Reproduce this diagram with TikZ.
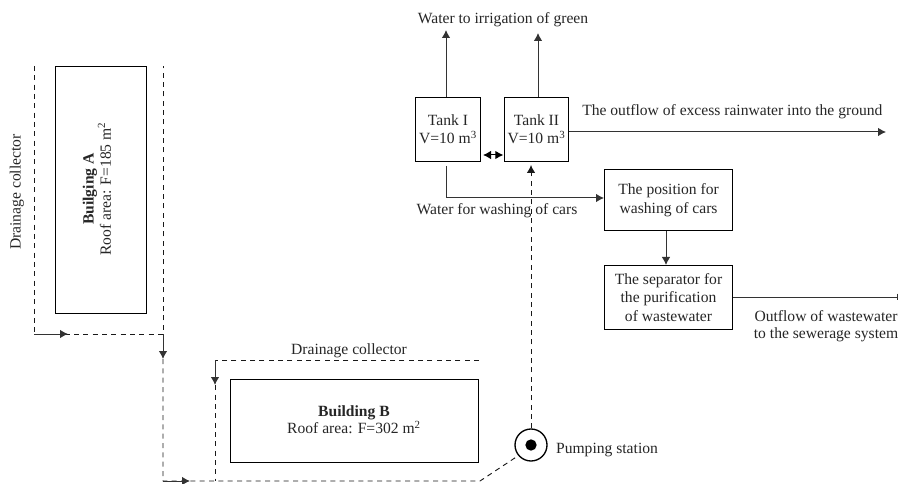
\documentclass[tikz,border=0pt]{standalone}
\usepackage{fontspec}
\setmainfont{Liberation Serif}
\usetikzlibrary{arrows.meta}
\tikzset{
  x=0.75pt,y=-0.75pt,
  boxnode/.style={draw=black,line width=0.75pt,inner sep=0pt,rectangle,align=center,font=\fontsize{11.7}{13.8}\selectfont,text=black!85},
  label/.style={inner sep=0pt,align=center,font=\fontsize{11.7}{13}\selectfont,text=black!85},
  solidline/.style={draw=black!80,line width=0.75pt},
  dashline/.style={draw=black!90,line width=0.7pt,dash pattern=on 3.8pt off 3.2pt},
  arrowed/.style={-{Latex[length=6pt,width=6.4pt]}},
  bothway/.style={{Latex[length=6pt,width=6.4pt]}-{Latex[length=6pt,width=6.4pt]}},
}
\begin{document}
\begin{tikzpicture}
\useasboundingbox (0,0) rectangle (898,484);
% buildings
\node[boxnode,anchor=north west,minimum width=68.25pt,minimum height=185.25pt] (bldA) at (55,66) {};
\node[boxnode,anchor=north west,minimum width=186pt,minimum height=62.25pt] (bldB) at (230,379) {};
\node[label,rotate=90] (bldAt) at (97,189) {\textbf{Builging A}\\Roof area: F=185 m\textsuperscript{2}};
\node[label] (bldBt) at (354,420) {\textbf{Building B}\\Roof area: F=302 m\textsuperscript{2}};
% process boxes
\node[boxnode,anchor=north west,minimum width=48.75pt,minimum height=48pt] (tankI) at (415,97) {Tank I\\V=10 m\textsuperscript{3}};
\node[boxnode,anchor=north west,minimum width=48pt,minimum height=48pt] (tankII) at (504,97) {Tank II\\V=10 m\textsuperscript{3}};
\node[boxnode,anchor=north west,minimum width=96pt,minimum height=45.75pt,line width=0.9pt] (wash) at (604,169) {The position for\\washing of cars};
\node[boxnode,anchor=north west,minimum width=96pt,minimum height=48pt] (sep) at (604,265) {The separator for\\the purification\\of wastewater};
% pump
\node[circle,draw=black,line width=1pt,minimum size=24pt,inner sep=0pt] (pump) at (531,445) {};
\node[circle,fill=black,minimum size=8.5pt,inner sep=0pt] (pumpdot) at (pump.center) {};
% labels
\node[label] (lgreen) at (503,20) {Water to irrigation of green};
\node[label,anchor=west] (lout) at (582,112) {The outflow of excess rainwater into the ground};
\node[label] (lwash) at (497,211) {Water for washing of cars};
\node[label] (lsew) at (826,326) {Outflow of wastewater\\to the sewerage system};
\node[label] (lpump) at (607,450) {Pumping station};
\node[label,rotate=90] (ldrA) at (17,192) {Drainage collector};
\node[label] (ldrB) at (349,351) {Drainage collector};
% free ends
\coordinate (aTL) at (34,66);
\coordinate (aBL) at (34,334);
\coordinate (aArrow) at (68,334);
\coordinate (aTR) at (163,66);
\coordinate (aBR) at (163,334);
\coordinate (aDown) at (163,359);
\coordinate (botL) at (163,481);
\coordinate (botArrow) at (190,481);
\coordinate (botR) at (480,481);
\coordinate (bTR) at (479,360);
\coordinate (bTL) at (215,360);
\coordinate (bArrow) at (215,385);
\coordinate (bBot) at (215,481);
\coordinate (irrI) at (446,30);
\coordinate (irrII) at (538,33);
\coordinate (outEnd) at (886,132);
\coordinate (washCorner) at (446,198);
\coordinate (sewEnd) at (898,297);
% dashed
\draw[dashline] (aTL) -- (aBL) -- (aBR) -- (aTR);
\draw[solidline,arrowed] (aBL) -- (aArrow);
\draw[solidline,arrowed] (aBR) -- (aDown);
\draw[dashline] (aDown) -- (botL) -- (botR) -- (pump.220);
\draw[solidline,arrowed] (botL) -- (botArrow);
\draw[dashline] (bTR) -- (bTL) -- (bArrow) -- (bBot);
\draw[solidline,arrowed] (bTL) -- (bArrow);
\draw[dashline,arrowed] (pump.north) -- (531,165);
% solid
\draw[solidline,arrowed] (tankI.north -| irrI) -- (irrI);
\draw[solidline,arrowed] (tankII.north -| irrII) -- (irrII);
\draw[solidline,bothway,draw=black] ([xshift=1.5pt]tankI.east |- 0,155) -- ([xshift=-0.5pt]tankII.west |- 0,155);
\draw[solidline,arrowed] (tankII.east |- outEnd) -- (outEnd);
\draw[solidline,arrowed] ([yshift=-3pt]tankI.south -| washCorner) -- (washCorner) -- (wash.west |- washCorner);
\draw[solidline,arrowed] (wash.south -| 666,0) -- (sep.north -| 666,0);
\draw[solidline,-{Bar[width=5pt]}] (sep.east |- sewEnd) -- (sewEnd);
\end{tikzpicture}
\end{document}
